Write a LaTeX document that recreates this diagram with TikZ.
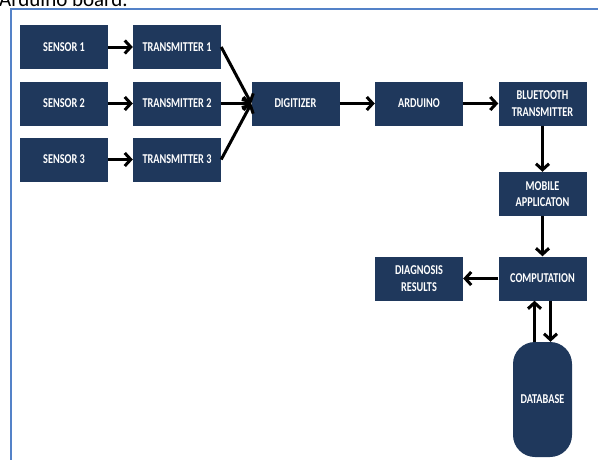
\documentclass[tikz,border=0pt]{standalone}
\usepackage{fontspec}
\setmainfont{Carlito}
\usepackage{tikz, graphicx}
\usetikzlibrary{positioning,arrows.meta,calc}

\definecolor{boxblue}{RGB}{31,56,92}
\definecolor{frameblue}{RGB}{84,130,200}
\newcommand{\squeezed}[1]{\scalebox{0.76}[1]{#1}}

\begin{document}
\begin{tikzpicture}[x=1pt,y=-1pt,
	>={Straight Barb[length=6pt,width=13pt]},
	block/.style={fill=boxblue,text=white,
		font=\bfseries\fontsize{13.5}{16.5}\selectfont,
		minimum width=88pt,minimum height=44pt,
		inner sep=0pt,align=center},
	flow/.style={->,line width=3pt}]
	\clip (0,0) rectangle (598,459);

	% cut-off heading and frame
	\node[anchor=base west,inner sep=0pt,
		  font=\fontsize{21}{22}\selectfont] 
		  (title) at (-1,6) {Arduino board.};
	\draw[frameblue,line width=2pt] (11,460) -- (11,9) -- (599,9);

	\node[block] (S1) at (64,47) {\squeezed{SENSOR 1}};
	\node[block] (T1) at (177,47) {\squeezed{TRANSMITTER 1}};
	\node[block] (S2) at (64,103.5) {\squeezed{SENSOR 2}};
	\node[block] (T2) at (177,103.5) {\squeezed{TRANSMITTER 2}};
	\node[block] (S3) at (64,159.5) {\squeezed{SENSOR 3}};
	\node[block] (T3) at (177,159.5) {\squeezed{TRANSMITTER 3}};
	\node[block] (DIG) at (295.5,103.5) {\squeezed{DIGITIZER}};
	\node[block] (ARD) at (419,103.5) {\squeezed{ARDUINO}};
	\node[block] (BT) at (542.5,103.5) 
		  {\squeezed{BLUETOOTH}\\\squeezed{TRANSMITTER}};
	\node[block] (MOB) at (542.5,194) 
		  {\squeezed{MOBILE}\\\squeezed{APPLICATON}};
	\node[block] (COMP) at (542.5,278.5) {\squeezed{COMPUTATION}};
	\node[block] (DIAG) at (419,278.5) 
		  {\squeezed{DIAGNOSIS}\\\squeezed{RESULTS}};
	\node[block,minimum width=59pt,minimum height=115pt,
		  rounded corners=22pt] 
		  (DB) at (542.5,399.5) {\squeezed{DATABASE}};

	\draw[flow] (S1) -- (T1);
	\draw[flow] (S2) -- (T2);
	\draw[flow] (S3) -- (T3);
	\draw[flow] (T1.east) -- (DIG.west);
	\draw[flow] (T2.east) -- (DIG.west);
	\draw[flow] (T3.east) -- (DIG.west);
	\draw[flow] (DIG) -- (ARD);
	\draw[flow] (ARD) -- (BT);
	\draw[flow] (BT) -- (MOB);
	\draw[flow] (MOB) -- (COMP);
	\draw[flow] (COMP) -- (DIAG);
	\draw[flow] ([xshift=-8pt]DB.north) -- ([xshift=-8pt]COMP.south);
	\draw[flow] ([xshift=8pt]COMP.south) -- ([xshift=8pt]DB.north);
\end{tikzpicture}
\end{document}
